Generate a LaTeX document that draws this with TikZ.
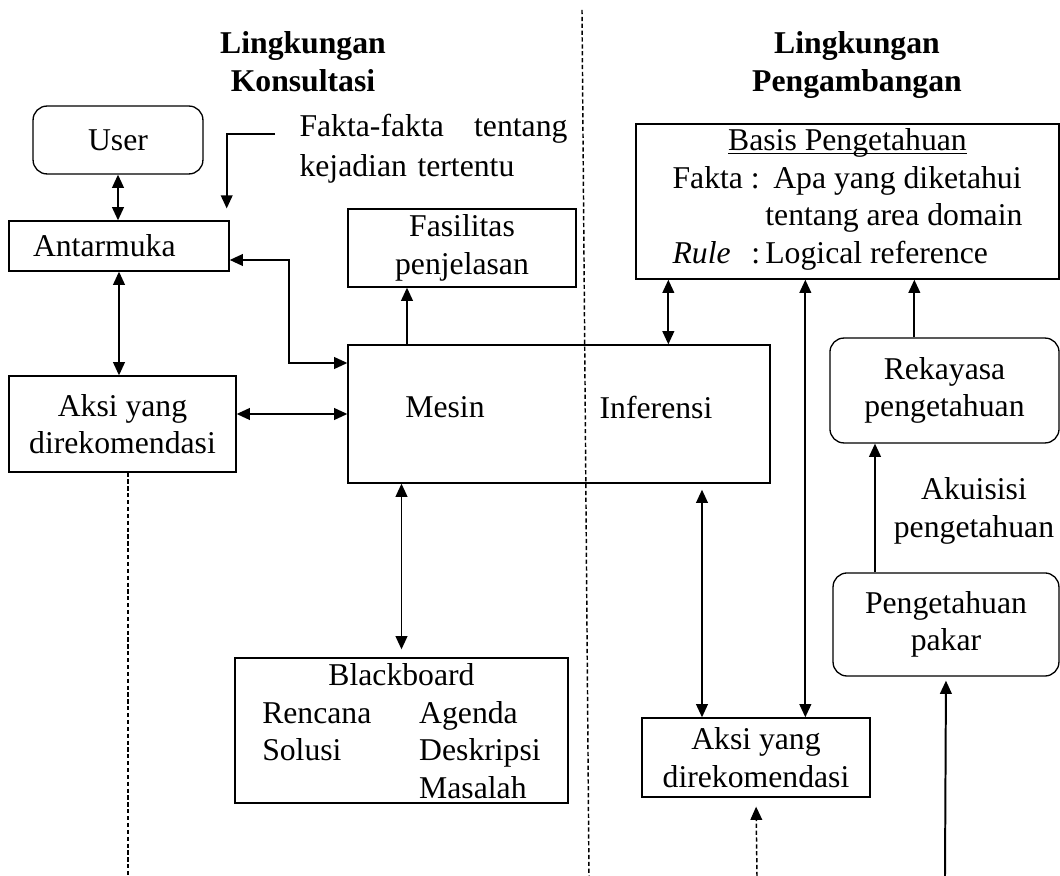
\documentclass[tikz,border=0pt]{standalone}
\usepackage{fontspec}
\setmainfont{Liberation Serif}
\usetikzlibrary{arrows.meta,calc}

\newcommand{\garisbawah}[1]{\leavevmode\setbox0=\hbox{#1}\rlap{\rule[-1.2pt]{\wd0}{0.45pt}}\box0}

\begin{document}
\begin{tikzpicture}[
    x=0.3785pt, y=-0.3785pt,
    font=\fontsize{12}{14.2}\selectfont,
    box/.style={rectangle, draw=black, line width=0.5pt, inner sep=0pt, align=center},
    rbox/.style={box, rounded corners=5.3pt},
    lbl/.style={inner sep=0pt, align=center},
    title/.style={lbl, anchor=north, font=\fontsize{12}{14.2}\selectfont\bfseries},
    arr/.style={-{Triangle[length=5pt,width=4.4pt]}, line width=0.75pt},
    darr/.style={{Triangle[length=5pt,width=4.4pt]}-{Triangle[length=5pt,width=4.4pt]}, line width=0.75pt},
    dashline/.style={line width=0.55pt, dash pattern=on 1.6pt off 1pt}
]
    \useasboundingbox (0,0) rectangle (1060,876);

    % judul
    \node[title] (konsul) at (303,31) {Lingkungan\\Konsultasi};
    \node[title] (kembang) at (857,31) {Lingkungan\\Pengambangan};

    % lingkungan konsultasi
    \node[rbox, minimum width=64.3pt, minimum height=25.7pt] (user) at (118,140) {User};
    \node[box, minimum height=18.9pt, text width=65.1pt, inner xsep=9.1pt, align=left] (antarmuka) at (119,246) {Antarmuka};
    \node[lbl, text width=101.4pt, align=left, anchor=west, font=\fontsize{12}{15.1}\selectfont] (fakta) at (299,149) {Fakta-fakta\hfill tentang\\kejadian tertentu};
    \node[box, minimum width=86.3pt, minimum height=29.5pt] (fasilitas) at (462,248) {Fasilitas\\penjelasan};
    \node[box, minimum width=159.7pt, minimum height=52.2pt] (mesin) at (559,414) {};
    \node[lbl] (mesintxt) at (445,407) {Mesin};
    \node[lbl] (inferensitxt) at (656,407) {Inferensi};
    \node[box, minimum width=85.9pt, minimum height=36.3pt] (aksikiri) at (122.5,424) {Aksi yang\\direkomendasi};
    \node[box, minimum width=126pt, minimum height=54.9pt] (blackboard) at (401.5,730.5)
        {\raisebox{16.9pt}[27pt][27pt]{\begin{tabular}[t]{@{}p{59.4pt}@{}l@{}}\multicolumn{2}{@{}c@{}}{Blackboard}\\Rencana & Agenda\\Solusi & Deskripsi\\ & Masalah\end{tabular}}};

    % lingkungan pengembangan
    \node[box, minimum width=160.1pt, minimum height=58.7pt] (basis) at (847.5,201.5)
        {\garisbawah{Basis Pengetahuan}\\\begin{tabular}[t]{@{}l@{\hspace{2pt}}l@{}}Fakta : & \ Apa yang diketahui\\ & tentang area domain\\ \textit{Rule}\hspace{0.65em}: & Logical reference\end{tabular}};
    \node[rbox, minimum width=86.7pt, minimum height=39.7pt] (rekayasa) at (944.5,390.5) {Rekayasa\\pengetahuan};
    \node[lbl] (akuisisi) at (974,511) {Akuisisi\\pengetahuan};
    \node[rbox, minimum width=85.5pt, minimum height=39pt] (pakar) at (946,624.5) {Pengetahuan\\pakar};
    \node[box, minimum width=86.3pt, minimum height=29.9pt] (aksikanan) at (756,757.5) {Aksi yang\\direkomendasi};

    % titik bantu
    \coordinate (batastop) at (582,10);
    \coordinate (batasbot) at (589,876);
    \coordinate (faktain) at (275,134);
    \coordinate (saranL) at (128,876);
    \coordinate (saranR) at (757,876);
    \coordinate (pakarin) at (945,876);
    \coordinate (xfas) at ($(fasilitas.south)+(-55,0)$);
    \coordinate (xbm) at ($(basis.south west)+(33,0)$);
    \coordinate (xba) at ($(basis.south west)+(170,0)$);
    \coordinate (xbr) at ($(basis.south west)+(279,0)$);
    \coordinate (xpr) at ($(pakar.north)+(-71,0)$);
    \coordinate (xma) at ($(aksikanan.north)+(-54,0)$);

    \draw[dashline] (batastop) -- (batasbot);

    \draw[darr] (user.south) -- (user.south |- antarmuka.north);
    \draw[arr, shorten >=4.5pt] (faktain) -| ($(antarmuka.north east)+(-3,0)$);
    \draw[darr] ($(antarmuka.east)+(0,14)$) -- ++(59,0) |- ($(mesin.west)+(0,-51)$);
    \draw[arr] (xfas |- mesin.north) -- (xfas);
    \draw[darr] (antarmuka.south) -- (antarmuka.south |- aksikiri.north);
    \draw[darr] (aksikiri.east |- mesin.west) -- (mesin.west);
    \draw[dashline] (saranL |- aksikiri.south) -- (saranL);
    \draw[darr, shorten >=3pt] (blackboard.north |- mesin.south) -- (blackboard.north);

    \draw[darr] (xbm) -- (xbm |- mesin.north);
    \draw[darr] (xba) -- (xba |- aksikanan.north);
    \draw[arr] (xbr |- rekayasa.north) -- (xbr);
    \draw[arr] (xpr) -- (xpr |- rekayasa.south);
    \draw[arr, shorten >=1.5pt] (pakarin) -- (pakar.south);
    \draw[darr, shorten >=2.3pt] (xma) -- (xma |- mesin.south);
    \draw[arr, dashline, shorten >=3.4pt] (saranR) -- (aksikanan.south);
\end{tikzpicture}
\end{document}
